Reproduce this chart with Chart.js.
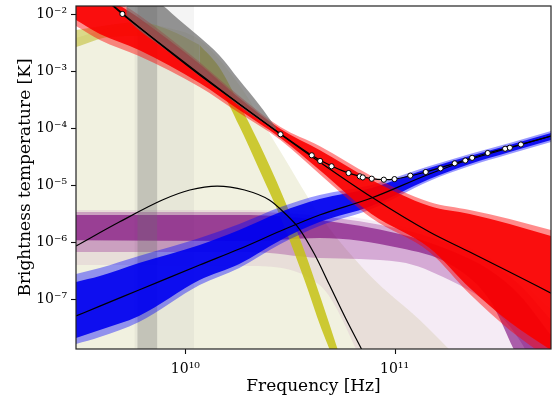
<!DOCTYPE html>
<html>
<head>
<meta charset="utf-8">
<title>Brightness temperature spectrum</title>
<script src="https://cdn.jsdelivr.net/npm/chart.js@4.4.0/dist/chart.umd.min.js"></script>
<style>
  html, body { margin: 0; padding: 0; background: #fff; }
  canvas { display: block; }
</style>
</head>
<body>
<canvas id="sed" width="556" height="405"></canvas>
<script>
//axis ranges and labelled ticks
const freqMin = 3.0e9, freqMax = 5.6e11;
const tempMin = 1.33e-8, tempMax = 1.38e-2;
const xMajorTicks = [1e10, 1e11];
const yMajorTicks = [1e-7, 1e-6, 1e-5, 1e-4, 1e-3, 1e-2];

//frequency grid (Hz) shared by the red and blue posterior bands
const bandFreq = [3.0e9, 3.9e9, 6.0e9, 1.17e10, 1.81e10, 2.85e10, 4.38e10, 7.76e10, 1.47e11, 2.29e11, 3.55e11, 5.6e11];

//red component: wide spread, dense core, best fit
const redOuterHi = [5.92e-2, 2.64e-2, 9.6e-3, 1.44e-3, 3.64e-4, 1.04e-4, 4.83e-5, 1.44e-5, 5.03e-6, 3.64e-6, 2.53e-6, 1.62e-6];
const redOuterLo = [6.16e-3, 3.50e-3, 1.83e-3, 5.24e-4, 1.83e-4, 6.16e-5, 1.56e-5, 2.64e-6, 6.68e-7, 1.22e-7, 2.86e-8, 8.51e-9];
const redCoreHi = [5.92e-2, 2.43e-2, 8.51e-3, 1.33e-3, 3.36e-4, 9.6e-5, 4.11e-5, 1.22e-5, 4.28e-6, 3.10e-6, 2.07e-6, 1.27e-6];
const redCoreLo = [7.85e-3, 4.46e-3, 2.34e-3, 6.16e-4, 2.07e-4, 6.68e-5, 1.83e-5, 3.10e-6, 7.85e-7, 1.56e-7, 3.95e-8, 1.27e-8];
const redBest = [5.24e-2, 2.24e-2, 5.9e-3, 8.5e-4, 2.64e-4, 7.8e-5, 2.54e-5, 6.15e-6, 1.50e-6, 6.68e-7, 2.98e-7, 1.27e-7];

//blue component
const blueOuterHi = [2.75e-7, 3.50e-7, 5.68e-7, 1.18e-6, 2.07e-6, 4.11e-6, 6.68e-6, 1.0e-5, 2.15e-5, 3.50e-5, 5.46e-5, 8.86e-5];
const blueOuterLo = [1.62e-8, 2.15e-8, 3.95e-8, 1.76e-7, 3.50e-7, 9.22e-7, 1.91e-6, 3.79e-6, 1.18e-5, 2.15e-5, 3.50e-5, 5.68e-5];
const blueCoreHi = [1.99e-7, 2.53e-7, 4.28e-7, 8.86e-7, 1.62e-6, 3.36e-6, 5.68e-6, 8.86e-6, 1.99e-5, 3.23e-5, 5.03e-5, 8.17e-5];
const blueCoreLo = [2.07e-8, 2.86e-8, 5.03e-8, 2.15e-7, 4.11e-7, 1.08e-6, 2.24e-6, 4.28e-6, 1.27e-5, 2.34e-5, 3.79e-5, 6.16e-5];
const blueBest = [5.04e-8, 7.53e-8, 1.44e-7, 3.95e-7, 7.53e-7, 1.56e-6, 2.98e-6, 5.91e-6, 1.56e-5, 2.80e-5, 4.46e-5, 7.24e-5];

//gray component: falling side and the steep rise near 6-7 GHz
const grayFreq = [5.22e9, 6.0e9, 7.51e9, 9.36e9, 1.17e10, 1.45e10, 1.81e10, 2.26e10, 2.72e10];
const grayHi = [2.64e-2, 2.43e-2, 1.56e-2, 7.85e-3, 3.95e-3, 1.91e-3, 6.95e-4, 2.54e-4, 1.0e-4];
const grayLo = [8.5e-3, 5.24e-3, 2.86e-3, 1.56e-3, 8.17e-4, 4.64e-4, 2.43e-4, 1.38e-4, 8.86e-5];
const grayRiseCore = [5.89e9, 7.35e9];
const grayRiseWide = [5.7e9, 1.10e10];

//yellow component: upper hump, steep falling ridge, faint spread of samples
const yellowTopFreq = [3.0e9, 4.33e9, 6.0e9, 8.38e9, 1.17e10];
const yellowTopHi = [5.24e-3, 6.41e-3, 7.24e-3, 5.24e-3, 2.86e-3];
const yellowTopLo = [2.64e-3, 3.95e-3, 4.11e-3, 2.86e-3, 1.27e-3];
const yellowFreq = [1.17e10, 1.45e10, 1.81e10, 2.26e10, 2.91e10, 3.71e10, 4.47e10, 5.46e10];
const yellowHi = [2.86e-3, 1.18e-3, 2.64e-4, 5.24e-5, 6.68e-6, 6.95e-7, 9.6e-8, 1.04e-8];
const yellowLo = [1.27e-3, 5.24e-4, 1.08e-4, 1.83e-5, 2.24e-6, 2.15e-7, 3.0e-8, 5.0e-9];
const yellowFaintFreq = [3.0e9, 4.33e9, 6.0e9, 8.38e9, 1.17e10, 1.81e10, 2.82e10, 4.38e10, 7.59e10, 1.32e11, 2.05e11];
const yellowFaintHi = [3.79e-3, 5.68e-3, 6.7e-3, 5.68e-3, 3.50e-3, 5.68e-4, 4.11e-5, 2.98e-6, 2.64e-7, 4.28e-8, 8.5e-9];

//purple component: flat at low frequency, turning over above ~50 GHz
const purpleFreq = [3.0e9, 2.02e10, 4.38e10, 1.06e11, 1.83e11, 2.85e11, 3.96e11, 5.6e11];
const purpleFaintHi = [3.64e-6, 3.64e-6, 3.23e-6, 1.91e-6, 1.08e-6, 5.24e-7, 2.15e-7, 6.41e-8];
const purpleFaintLo = [3.95e-7, 3.79e-7, 1.76e-7, 1e-9, 1e-9, 1e-9, 1e-9, 1e-9];
const purpleMidHi = [3.36e-6, 3.36e-6, 2.86e-6, 1.69e-6, 9.22e-7, 4.46e-7, 1.76e-7, 4.28e-8];
const purpleMidLo = [6.68e-7, 6.68e-7, 5.24e-7, 4.46e-7, 2.15e-7, 7.85e-8, 1.91e-8, 1.69e-9];
const purpleCoreHi = [2.98e-6, 2.98e-6, 2.43e-6, 1.38e-6, 7.24e-7, 3.23e-7, 1.18e-7, 2.34e-8];
const purpleCoreLo = [1.08e-6, 1.04e-6, 1.18e-6, 7.85e-7, 4.11e-7, 9.6e-8, 8.51e-9, 1.69e-9];

//peaked best-fit curve
const peakFreq = [3.0e9, 4.83e9, 7.76e9, 1.05e10, 1.42e10, 1.92e10, 2.52e10, 2.98e10, 3.51e10, 4.14e10, 4.89e10, 5.83e10, 6.95e10, 8.29e10];
const peakTemp = [8.51e-7, 2.24e-6, 5.46e-6, 8.17e-6, 9.6e-6, 8.17e-6, 5.46e-6, 3.23e-6, 1.69e-6, 6.16e-7, 1.76e-7, 4.64e-8, 1.33e-8, 3.79e-9];

//total model
const totalFreq = [3.88e9, 4.99e9, 7.51e9, 1.17e10, 1.81e10, 2.85e10, 4.01e10, 5.0e10, 6.03e10, 7.76e10, 8.89e10, 1.0e11, 1.41e11, 1.94e11, 2.79e11, 4.01e11, 5.6e11];
const totalTemp = [2.24e-2, 1.0e-2, 3.10e-3, 8.86e-4, 2.64e-4, 7.9e-5, 3.34e-5, 2.15e-5, 1.62e-5, 1.29e-5, 1.24e-5, 1.27e-5, 1.69e-5, 2.40e-5, 3.64e-5, 5.14e-5, 7.24e-5];

//measured points
const obsFreq = [5.0e9, 2.85e10, 4.02e10, 4.41e10, 5.0e10, 6.03e10, 6.82e10, 7.05e10, 7.78e10, 8.89e10, 1.0e11, 1.19e11, 1.41e11, 1.66e11, 1.94e11, 2.18e11, 2.35e11, 2.79e11, 3.38e11, 3.56e11, 4.02e11];
const obsTemp = [1.0e-2, 7.75e-5, 3.32e-5, 2.64e-5, 2.13e-5, 1.62e-5, 1.42e-5, 1.36e-5, 1.29e-5, 1.24e-5, 1.27e-5, 1.46e-5, 1.69e-5, 1.96e-5, 2.40e-5, 2.69e-5, 3.0e-5, 3.64e-5, 4.33e-5, 4.51e-5, 5.14e-5];

const FONT = "'DejaVu Serif', 'Liberation Serif', serif";
const pts = (xs, ys) => xs.map((x, i) => ({x: x, y: ys[i]}));

//datasets are pushed bottom layer first
let datasets = [];
const bandLine = {
    pointRadius: 0,
    borderWidth: 1,
    borderColor: 'rgba(0,0,0,0)',
    cubicInterpolationMode: 'monotone',
};

const addBand = (freq, hi, lo, color) => {
    let loIndex = datasets.length + 1;
    datasets.push({...bandLine, data: pts(freq, hi), backgroundColor: color, fill: {target: loIndex, above: color, below: color}});
    datasets.push({...bandLine, data: pts(freq, lo), fill: false});
};

const addToBottom = (freq, hi, color) => {
    datasets.push({...bandLine, data: pts(freq, hi), backgroundColor: color, fill: 'start'});
};

const addStreak = (edges, color) => {
    datasets.push({...bandLine, cubicInterpolationMode: 'default', tension: 0,
        data: pts(edges, [1, 1]), backgroundColor: color, fill: 'start'});
};

const addCurve = (freq, temp) => {
    datasets.push({data: pts(freq, temp), borderColor: '#000', borderWidth: 1.2, pointRadius: 0,
        fill: false, cubicInterpolationMode: 'monotone'});
};

addToBottom(yellowFaintFreq, yellowFaintHi, 'rgba(170,170,60,0.16)');
addStreak(grayRiseWide, 'rgba(120,120,120,0.08)');
addBand(purpleFreq, purpleFaintHi, purpleFaintLo, 'rgba(128,0,128,0.08)');
addBand(purpleFreq, purpleMidHi, purpleMidLo, 'rgba(128,0,128,0.28)');
addBand(purpleFreq, purpleCoreHi, purpleCoreLo, 'rgba(120,0,120,0.6)');
addStreak(grayRiseCore, 'rgba(110,110,110,0.3)');
addBand(yellowTopFreq, yellowTopHi, yellowTopLo, 'rgba(190,186,40,0.55)');
addBand(yellowFreq, yellowHi, yellowLo, 'rgba(198,194,20,0.85)');
addBand(bandFreq, blueOuterHi, blueOuterLo, 'rgba(0,0,255,0.4)');
addBand(bandFreq, blueCoreHi, blueCoreLo, 'rgba(0,0,240,0.9)');
addBand(bandFreq, redOuterHi, redOuterLo, 'rgba(255,0,0,0.45)');
addBand(bandFreq, redCoreHi, redCoreLo, 'rgba(250,0,0,0.9)');
addBand(grayFreq, grayHi, grayLo, 'rgba(105,105,105,0.7)');
addCurve(peakFreq, peakTemp);
addCurve(bandFreq, blueBest);
addCurve(bandFreq, redBest);
addCurve(totalFreq, totalTemp);
datasets.push({data: pts(obsFreq, obsTemp), showLine: false, pointRadius: 2.6,
    pointBackgroundColor: '#fff', pointBorderColor: '#000', pointBorderWidth: 1});

//later pushes sit on top
datasets.forEach((d, i) => { d.order = datasets.length - i; });

//1..9 ticks in every decade, majors at powers of ten
const logTicks = (min, max) => {
    let ticks = [];
    for (let e = Math.floor(Math.log10(min)); e <= Math.ceil(Math.log10(max)); e++) {
        for (let m = 1; m <= 9; m++) {
            let v = m * Math.pow(10, e);
            if (v >= min * 0.9999 && v <= max * 1.0001) ticks.push({value: v, major: m === 1});
        }
    }
    return ticks;
};

const SUP = {'-': '\u207B', '0': '\u2070', '1': '\u00B9', '2': '\u00B2', '3': '\u00B3', '4': '\u2074',
    '5': '\u2075', '6': '\u2076', '7': '\u2077', '8': '\u2078', '9': '\u2079'};
const powerLabel = (v, majors) => {
    if (!majors.some(m => Math.abs(m - v) / m < 1e-6)) return null;
    return '10' + String(Math.round(Math.log10(v))).split('').map(c => SUP[c]).join('');
};

//fixed axis boxes, no extra room for edge labels
const fixBox = (s, size) => {
    if (s.isHorizontal()) s.height = size; else s.width = size;
    s.paddingTop = 0;
    s.paddingBottom = 0;
    s.paddingLeft = 0;
    s.paddingRight = 0;
};

//tick marks of two lengths plus the box round the plot
const frameAndTicks = {
    id: 'frameAndTicks',
    afterDraw(chart) {
        const {ctx, chartArea: a, scales: {x, y}} = chart;
        ctx.save();
        ctx.strokeStyle = '#111';
        x.ticks.forEach(t => {
            let px = Math.round(x.getPixelForValue(t.value)) + 0.5;
            ctx.lineWidth = t.major ? 1.1 : 0.8;
            ctx.beginPath();
            ctx.moveTo(px, a.bottom);
            ctx.lineTo(px, a.bottom + (t.major ? 5 : 3));
            ctx.stroke();
        });
        y.ticks.forEach(t => {
            let py = Math.round(y.getPixelForValue(t.value)) + 0.5;
            ctx.lineWidth = t.major ? 1.1 : 0.8;
            ctx.beginPath();
            ctx.moveTo(a.left, py);
            ctx.lineTo(a.left - (t.major ? 5 : 3), py);
            ctx.stroke();
        });
        ctx.lineWidth = 1.2;
        ctx.strokeStyle = '#222';
        ctx.strokeRect(a.left, a.top, a.right - a.left, a.bottom - a.top);
        ctx.restore();
    }
};

const ctx = document.getElementById('sed').getContext('2d');
const sedChart = new Chart(ctx, {
    type: 'line',
    data: { datasets: datasets },
    options: {
        responsive: false,
        animation: false,
        devicePixelRatio: 1,
        layout: { padding: { top: 6, right: 5, left: 0, bottom: 0 } },
        elements: { line: { capBezierPoints: false } },
        plugins: {
            legend: { display: false },
            tooltip: { enabled: false },
        },
        scales: {
            x: {
                type: 'logarithmic',
                min: freqMin,
                max: freqMax,
                afterBuildTicks: s => { s.ticks = logTicks(freqMin, freqMax); },
                afterFit: s => fixBox(s, 56),
                grid: { display: false, drawTicks: false },
                border: { display: false },
                ticks: {
                    autoSkip: false,
                    maxRotation: 0,
                    padding: 12,
                    color: '#000',
                    font: { family: FONT, size: 14 },
                    callback: (v) => powerLabel(v, xMajorTicks),
                },
                title: {
                    display: true,
                    text: 'Frequency [Hz]',
                    color: '#000',
                    font: { family: FONT, size: 17 },
                    padding: { top: 0, bottom: 8 },
                },
            },
            y: {
                type: 'logarithmic',
                min: tempMin,
                max: tempMax,
                afterBuildTicks: s => { s.ticks = logTicks(tempMin, tempMax); },
                afterFit: s => fixBox(s, 76),
                grid: { display: false, drawTicks: false },
                border: { display: false },
                ticks: {
                    autoSkip: false,
                    padding: 9,
                    color: '#000',
                    font: { family: FONT, size: 14 },
                    callback: (v) => powerLabel(v, yMajorTicks),
                },
                title: {
                    display: true,
                    text: 'Brightness temperature [K]',
                    color: '#000',
                    font: { family: FONT, size: 17 },
                    padding: { top: 15, bottom: 0 },
                },
            },
        },
    },
    plugins: [frameAndTicks],
});
</script>
</body>
</html>
